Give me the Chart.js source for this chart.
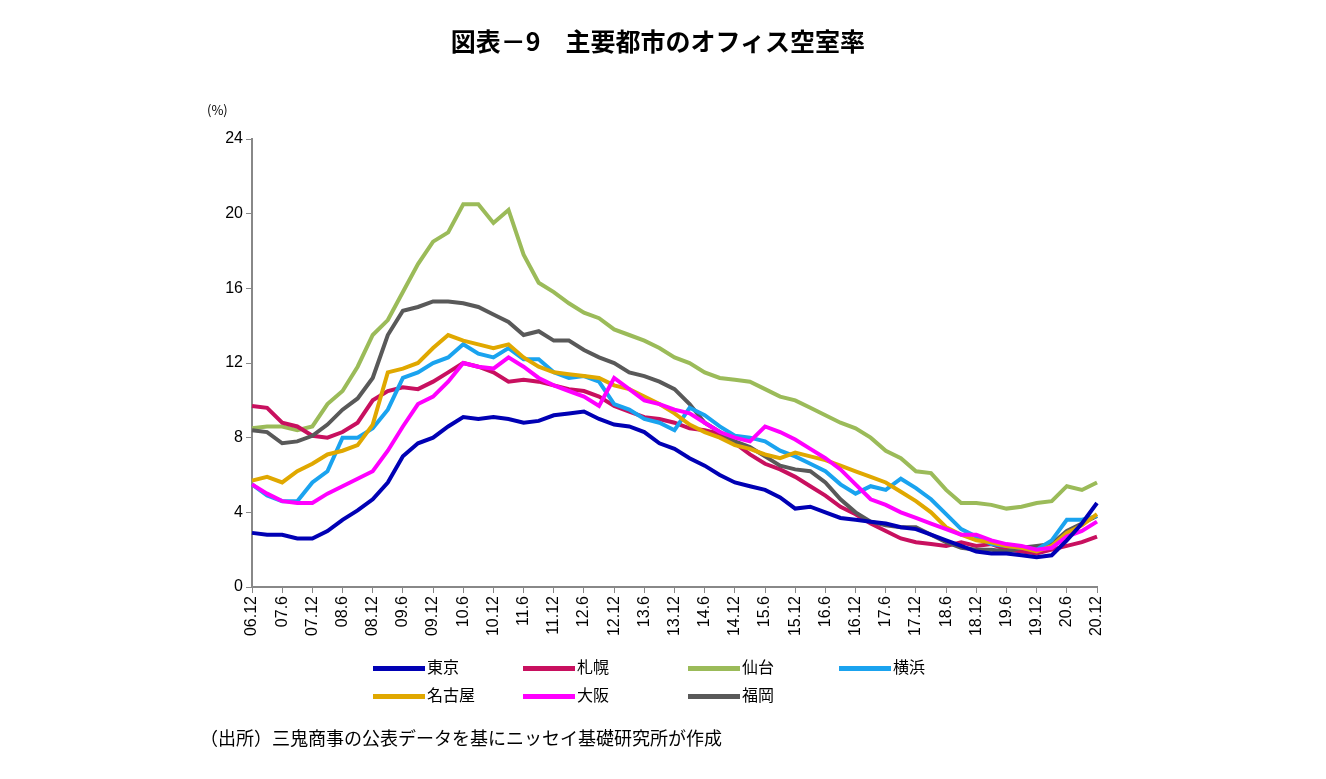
<!DOCTYPE html>
<html>
<head>
<meta charset="utf-8">
<script src="https://cdn.jsdelivr.net/npm/chart.js@4"></script>
<style>
  body { margin: 0; background: #fff; font-family: "Noto Sans CJK JP", sans-serif; }
  #wrap { position: relative; width: 1326px; height: 779px; }
  #title { position: absolute; top: 22px; left: 0; width: 1316px; text-align: center; font-size: 25px; font-weight: bold; }
  #unit { position: absolute; top: 100px; left: 207px; font-size: 13px; }
  #legend { position: absolute; top: 654px; left: 373px; font-size: 16px; }
  .item { position: absolute; white-space: nowrap; }
  .item span { display: inline-block; width: 52px; height: 5px; vertical-align: middle; margin-right: 2px; }
  #source { position: absolute; top: 724px; left: 200px; font-size: 18px; }
  canvas { position: absolute; left: 0; top: 0; }
</style>
</head>
<body>
<div id="wrap">
  <canvas id="chart" width="1326" height="779"></canvas>
  <div id="title">図表－9　主要都市のオフィス空室率</div>
  <div id="unit">(%)</div>
  <div id="legend"></div>
  <div id="source">（出所）三鬼商事の公表データを基にニッセイ基礎研究所が作成</div>
</div>
<script>
// quarterly readings, 06.12 .. 20.12
const labels = [];
for (let y = 6; y <= 20; y++) {
    [3, 6, 9, 12].forEach(m => {
        if (y === 6 && m < 12) return;
        labels.push(String(y).padStart(2, '0') + '.' + m);
    });
}

const tokyo    = [2.9,2.8,2.8,2.6,2.6,3.0,3.6,4.1,4.7,5.6,7.0,7.7,8.0,8.6,9.1,9.0,9.1,9.0,8.8,8.9,9.2,9.3,9.4,9.0,8.7,8.6,8.3,7.7,7.4,6.9,6.5,6.0,5.6,5.4,5.2,4.8,4.2,4.3,4.0,3.7,3.6,3.5,3.4,3.2,3.1,2.8,2.5,2.2,1.9,1.8,1.8,1.7,1.6,1.7,2.5,3.4,4.5];
const sapporo  = [9.7,9.6,8.8,8.6,8.1,8.0,8.3,8.8,10.0,10.5,10.7,10.6,11.0,11.5,12.0,11.8,11.5,11.0,11.1,11.0,10.8,10.6,10.5,10.2,9.7,9.4,9.1,9.0,8.8,8.5,8.4,8.2,7.7,7.1,6.6,6.3,5.9,5.4,4.9,4.3,3.9,3.4,3.0,2.6,2.4,2.3,2.2,2.4,2.2,2.3,2.0,1.9,1.8,2.0,2.2,2.4,2.7];
const sendai   = [8.5,8.6,8.6,8.4,8.6,9.8,10.5,11.8,13.5,14.3,15.8,17.3,18.5,19.0,20.5,20.5,19.5,20.2,17.8,16.3,15.8,15.2,14.7,14.4,13.8,13.5,13.2,12.8,12.3,12.0,11.5,11.2,11.1,11.0,10.6,10.2,10.0,9.6,9.2,8.8,8.5,8.0,7.3,6.9,6.2,6.1,5.2,4.5,4.5,4.4,4.2,4.3,4.5,4.6,5.4,5.2,5.6];
const yokohama = [5.5,4.9,4.6,4.6,5.6,6.2,8.0,8.0,8.5,9.5,11.2,11.5,12.0,12.3,13.0,12.5,12.3,12.8,12.2,12.2,11.5,11.2,11.3,11.0,9.8,9.5,9.0,8.8,8.4,9.6,9.2,8.6,8.1,8.0,7.8,7.3,7.0,6.6,6.2,5.5,5.0,5.4,5.2,5.8,5.3,4.7,3.9,3.1,2.7,2.3,2.2,2.1,2.0,2.5,3.6,3.6,3.8];
const nagoya   = [5.7,5.9,5.6,6.2,6.6,7.1,7.3,7.6,8.7,11.5,11.7,12.0,12.8,13.5,13.2,13.0,12.8,13.0,12.3,11.8,11.5,11.4,11.3,11.2,10.8,10.6,10.2,9.8,9.3,8.7,8.3,8.0,7.6,7.4,7.1,6.9,7.2,7.0,6.8,6.5,6.2,5.9,5.6,5.1,4.6,4.0,3.2,2.8,2.5,2.4,2.2,2.1,1.9,2.2,2.9,3.3,3.9];
const osaka    = [5.5,5.0,4.6,4.5,4.5,5.0,5.4,5.8,6.2,7.3,8.6,9.8,10.2,11.0,12.0,11.8,11.7,12.3,11.8,11.2,10.8,10.5,10.2,9.7,11.2,10.6,10.0,9.8,9.5,9.3,8.8,8.3,8.0,7.8,8.6,8.3,7.9,7.4,6.9,6.3,5.5,4.7,4.4,4.0,3.7,3.4,3.1,2.8,2.8,2.5,2.3,2.2,2.0,2.1,2.7,3.0,3.5];
const fukuoka  = [8.4,8.3,7.7,7.8,8.1,8.7,9.5,10.1,11.2,13.5,14.8,15.0,15.3,15.3,15.2,15.0,14.6,14.2,13.5,13.7,13.2,13.2,12.7,12.3,12.0,11.5,11.3,11.0,10.6,9.8,8.8,8.3,7.8,7.5,7.0,6.5,6.3,6.2,5.6,4.7,4.0,3.5,3.3,3.2,3.2,2.8,2.4,2.1,2.0,2.0,1.9,2.1,2.2,2.3,3.0,3.4,3.8];

const seriesNames  = ['東京', '札幌', '仙台', '横浜', '名古屋', '大阪', '福岡'];
const seriesData   = [tokyo, sapporo, sendai, yokohama, nagoya, osaka, fukuoka];
const seriesColors = ['#0000b4', '#c8105f', '#9bbb59', '#1aa3ef', '#e0a800', '#ff00ff', '#595959'];

const datasets = seriesNames.map((name, i) => ({
    label: name,
    data: seriesData[i],
    borderColor: seriesColors[i],
    borderWidth: 4,
    pointRadius: 0,
    tension: 0,
    fill: false
}));

// draw order: later datasets on top, match reference roughly
datasets.forEach((d, i) => d.order = [1, 6, 7, 4, 3, 2, 5][i]);

new Chart(document.getElementById('chart'), {
    type: 'line',
    data: { labels: labels, datasets: datasets },
    options: {
        responsive: false,
        animation: false,
        layout: { padding: { left: 200, right: 229, top: 139, bottom: 142 } },
        plugins: { legend: { display: false }, tooltip: { enabled: false } },
        scales: {
            x: {
                offset: false,
                afterFit: s => { s.height = 50; },
                grid: { drawOnChartArea: false, tickLength: 6, color: '#888' },
                border: { color: '#888', width: 2 },
                ticks: {
                    autoSkip: false,
                    minRotation: 90,
                    maxRotation: 90,
                    color: '#000',
                    font: { family: 'Liberation Sans', size: 16 },
                    callback: function (v, i) { return i % 2 === 0 ? labels[i] : null; }
                }
            },
            y: {
                min: 0,
                max: 24,
                afterFit: s => { s.width = 52; },
                grid: { drawOnChartArea: false, tickLength: 6, color: '#888' },
                border: { color: '#888', width: 2 },
                ticks: { stepSize: 4, color: '#000', font: { family: 'Liberation Sans', size: 16 } }
            }
        }
    }
});

const legend = document.getElementById('legend');
const pos = [[0, 0], [150, 0], [315, 0], [466, 0], [0, 28], [150, 28], [315, 28]];
seriesNames.forEach((name, i) => {
    const el = document.createElement('div');
    el.className = 'item';
    el.style.left = pos[i][0] + 'px';
    el.style.top = pos[i][1] + 'px';
    el.innerHTML = '<span style="background:' + seriesColors[i] + '"></span>' + name;
    legend.appendChild(el);
});
</script>
</body>
</html>
